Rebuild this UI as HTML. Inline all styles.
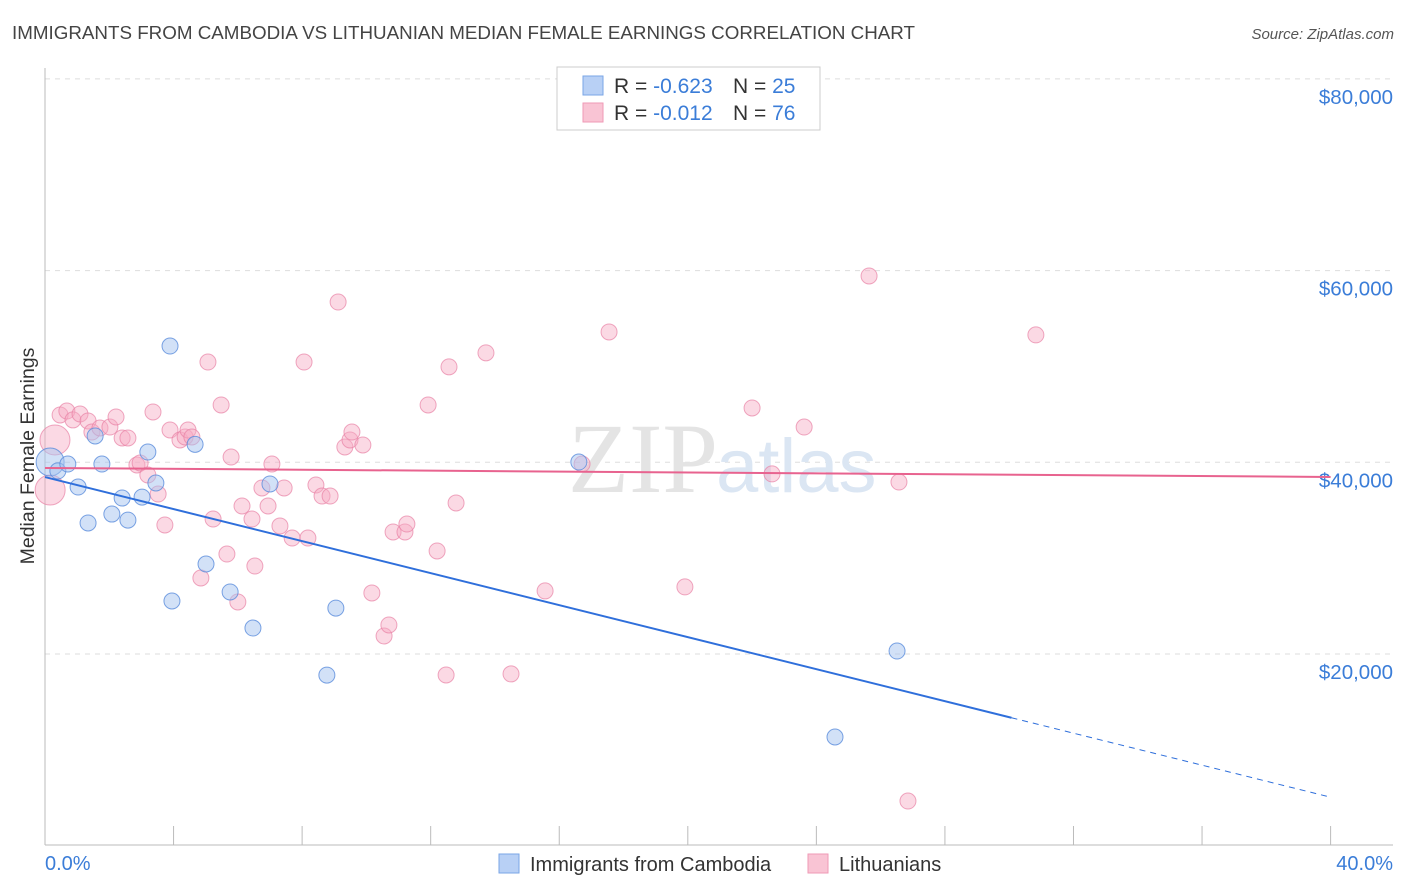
<!DOCTYPE html>
<html><head><meta charset="utf-8"><style>
body{margin:0;background:#fff;font-family:"Liberation Sans",sans-serif;}
svg{display:block}
</style></head><body>
<svg id="chart" width="1406" height="892" xmlns="http://www.w3.org/2000/svg">
<text x="12" y="39" font-size="18.8" fill="#444">IMMIGRANTS FROM CAMBODIA VS LITHUANIAN MEDIAN FEMALE EARNINGS CORRELATION CHART</text>
<text x="1394" y="39" font-size="15" fill="#555" font-style="italic" text-anchor="end">Source: ZipAtlas.com</text>
<g id="grid"></g>
<text x="718" y="492" font-size="100" fill="#e4e4e4" text-anchor="end" font-family="Liberation Serif,serif">ZIP</text>
<text x="716" y="492" font-size="76" fill="#dbe6f3">atlas</text>
<line x1="45" y1="68" x2="45" y2="845" stroke="#bbb"/>
<line x1="45" y1="845" x2="1393" y2="845" stroke="#bbb"/>
<g id="marks"></g>
<text x="34" y="456" font-size="19.5" fill="#333" text-anchor="middle" transform="rotate(-90 34 456)">Median Female Earnings</text>
<text x="45" y="870" font-size="20" fill="#3b7dd8">0.0%</text>
<text x="1393" y="870" font-size="20" fill="#3b7dd8" text-anchor="end">40.0%</text>
<g>
<rect x="557" y="67" width="263" height="63" fill="#fff" stroke="#ccc"/>
<rect x="583" y="76" width="20" height="19" fill="#b8d0f5" stroke="#7aa6e6"/>
<rect x="583" y="103" width="20" height="19" fill="#f9c4d4" stroke="#ef9ab6"/>
<text x="614" y="93" font-size="21" fill="#333">R = <tspan fill="#3b7dd8">-0.623</tspan><tspan x="733">N = </tspan><tspan fill="#3b7dd8">25</tspan></text>
<text x="614" y="120" font-size="21" fill="#333">R = <tspan fill="#3b7dd8">-0.012</tspan><tspan x="733">N = </tspan><tspan fill="#3b7dd8">76</tspan></text>
</g>
<g>
<rect x="499" y="854" width="20" height="19" fill="#b8d0f5" stroke="#7aa6e6"/>
<text x="530" y="871" font-size="20" fill="#333">Immigrants from Cambodia</text>
<rect x="808" y="854" width="20" height="19" fill="#f9c4d4" stroke="#ef9ab6"/>
<text x="839" y="871" font-size="20" fill="#333">Lithuanians</text>
</g>
</svg>
<script>
const yTicks=[20000,40000,60000,80000];
const yTickLabels=["$20,000","$40,000","$60,000","$80,000"];
const xTicks=[0,4,8,12,16,20,24,28,32,36,40];
const blueX=[0.16,0.40,0.71,1.03,1.34,1.56,1.77,2.08,2.40,2.58,3.02,3.20,3.45,3.89,3.95,4.67,5.01,5.76,6.47,7.00,8.77,9.05,16.61,24.58,26.51];
const blueY=[40030,39100,39820,37420,33670,42750,39820,34600,36270,33970,36370,41070,37840,52130,25530,41870,29390,26470,22710,37740,17800,24790,40030,11340,20310];
const blueR=[14,8,8,8,8,8,8,8,8,8,8,8,8,8,8,8,8,8,8,8,8,8,8,8,8];
const pinkX=[0.16,0.31,0.47,0.68,0.87,1.09,1.34,1.46,1.71,2.02,2.21,2.40,2.58,2.86,2.96,3.20,3.36,3.52,3.73,3.89,4.20,4.36,4.45,4.57,4.85,5.07,5.23,5.48,5.66,5.79,6.00,6.13,6.44,6.53,6.75,6.94,7.06,7.31,7.44,7.69,8.06,8.18,8.43,8.62,8.87,9.12,9.33,9.49,9.55,9.89,10.17,10.55,10.70,10.83,11.20,11.26,11.92,12.20,12.48,12.57,12.79,13.72,14.50,15.56,16.71,17.55,19.91,20.75,22.00,22.62,23.62,25.64,26.57,26.85,30.83];
const pinkY=[37110,42330,44940,45350,44420,45040,44310,43160,43580,43680,44730,42540,42540,39720,39930,38680,45250,36690,33460,43370,42330,42640,43370,42640,27930,50460,34080,45980,30430,40550,25430,35440,34080,29180,37320,35440,39820,33360,37320,32100,50460,32100,37630,36480,36480,56720,41600,42330,43160,41810,26370,21880,23030,32730,32730,33560,45980,30750,17810,49960,35760,51420,17920,26580,39820,53600,27000,78100,45670,38790,43680,59440,37940,4660,53290];
const blueTrend=[38460,-835];
const pinkTrend=[39410,-23.5];
const blueSolidEnd=30.07;
const X=p=>45+p*32.14;
const Y=v=>845.7-v/20000*191.7;
const NS="http://www.w3.org/2000/svg";
const grid=document.getElementById('grid'),marks=document.getElementById('marks');
function mk(tag,attrs,parent){const e=document.createElementNS(NS,tag);for(const k in attrs)e.setAttribute(k,attrs[k]);parent.appendChild(e);return e;}
yTicks.forEach((v,i)=>{
 const l=mk('line',{x1:45,x2:1393,y1:Y(v),y2:Y(v),stroke:'#ddd','stroke-dasharray':'5,5'},grid);
 
 
 const t=mk('text',{x:1393,y:Y(v)+25,'font-size':20.5,fill:'#3b7dd8','text-anchor':'end'},grid);
 t.textContent=yTickLabels[i];
 
 
});
xTicks.forEach(p=>{
 const l=mk('line',{x1:X(p),x2:X(p),y1:826,y2:845,stroke:'#bbb'},grid);
 
 
});
pinkX.forEach((p,i)=>{
 const c=mk('circle',{cx:X(p),cy:Y(pinkY[i]),r:(i<2?15:8),fill:'rgba(246,170,195,0.45)',stroke:'rgba(232,130,165,0.7)','stroke-width':1},marks);
 
 
});
blueX.forEach((p,i)=>{
 const c=mk('circle',{cx:X(p),cy:Y(blueY[i]),r:blueR[i],fill:'rgba(165,195,240,0.5)',stroke:'rgba(90,140,220,0.8)','stroke-width':1},marks);
 
 
});
const bt=p=>blueTrend[0]+blueTrend[1]*p, pt=p=>pinkTrend[0]+pinkTrend[1]*p;
let l=mk('line',{x1:X(0),y1:Y(bt(0)),x2:X(blueSolidEnd),y2:Y(bt(blueSolidEnd)),stroke:'#2f6fdb','stroke-width':2},marks);


l=mk('line',{x1:X(blueSolidEnd),y1:Y(bt(blueSolidEnd)),x2:X(40),y2:Y(bt(40)),stroke:'#2f6fdb','stroke-width':1,'stroke-dasharray':'6,5'},marks);


l=mk('line',{x1:X(0),y1:Y(pt(0)),x2:X(40),y2:Y(pt(40)),stroke:'#e8638f','stroke-width':2},marks);


</script>
</body></html>
